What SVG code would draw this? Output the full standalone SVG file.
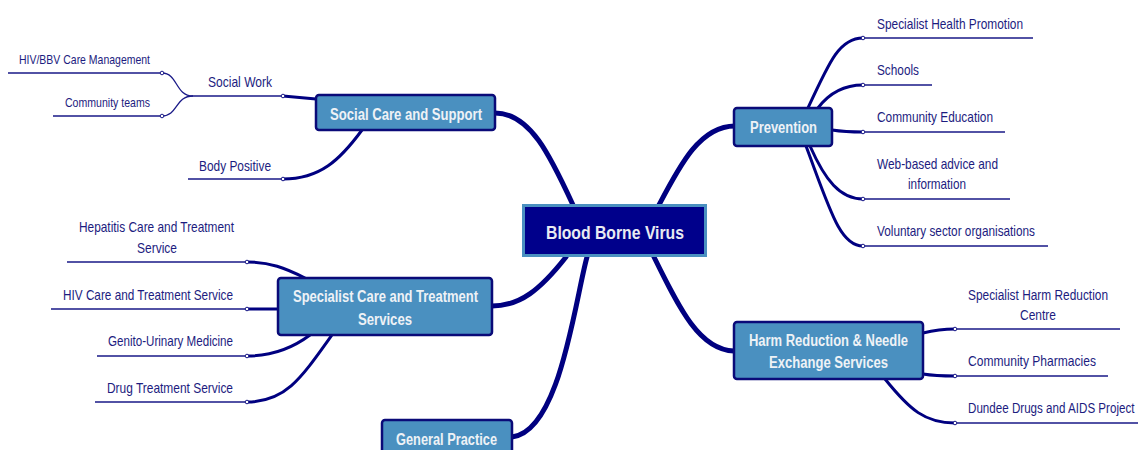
<svg xmlns="http://www.w3.org/2000/svg" width="1138" height="450" viewBox="0 0 1138 450">
<style>
.main{fill:none;stroke:#000080;stroke-width:5;stroke-linecap:round}
.sub{fill:none;stroke:#000080;stroke-width:3;stroke-linecap:round}
.thin{fill:none;stroke:#1a1a88;stroke-width:1.3}
.dot{fill:#ffffff;stroke:#1a1a88;stroke-width:1}
.leaf{font-family:"Liberation Sans",Arial,sans-serif;font-size:15px;fill:#1c1c80}
.small{font-size:13.5px}
.box{fill:#4a90c0;stroke:#0a0a78;stroke-width:2.5}
.ntext{font-family:"Liberation Sans",Arial,sans-serif;font-size:16px;font-weight:bold;fill:#eef2f6}
.central{fill:#00008b;stroke:#4a90c0;stroke-width:3}
.ctext{font-family:"Liberation Sans",Arial,sans-serif;font-size:19px;font-weight:bold;fill:#e8eaf2}
</style>
<g id="connectors">
<path class="main" d="M495 113 C530 113,550 155,573 205"/>
<path class="main" d="M659 205 C680 165,700 126,735 126"/>
<path class="main" d="M566 257 C540 290,520 306,492 306"/>
<path class="main" d="M587 257 C575 300,560 432,512 437"/>
<path class="main" d="M654 257 C680 310,700 350,734 351"/>
<path class="sub" d="M316 99 L283 96"/>
<path class="sub" d="M362 130 C340 160,320 179,283 179"/>
<path class="thin" d="M193 96 C175 96,178 73,162 73"/>
<path class="thin" d="M193 96 C175 96,178 116,162 116"/>
<path class="thin" d="M193 96 H283 M8 73 H162 M53 116 H162 M188 179 H283"/>
<path class="sub" d="M305 278 C285 268,270 262,247 262"/>
<path class="sub" d="M278 309 L247 309"/>
<path class="sub" d="M310 335 C290 350,270 356,247 356"/>
<path class="sub" d="M332 335 C300 380,285 402,247 402"/>
<path class="thin" d="M67 262 H247 M51 309 H247 M97 356 H247 M95 402 H247"/>
<path class="sub" d="M808 108 C830 60,840 38,863 38"/>
<path class="sub" d="M818 108 C830 92,845 85,863 85"/>
<path class="sub" d="M832 130 C845 132,850 132,863 132"/>
<path class="sub" d="M810 146 C825 180,840 199,863 199"/>
<path class="sub" d="M806 146 C830 210,840 246,863 246"/>
<path class="thin" d="M863 38 H1033 M863 85 H932 M863 132 H1005 M863 199 H1010 M863 246 H1048"/>
<path class="sub" d="M923 333 C935 330,945 329,955 329"/>
<path class="sub" d="M923 374 C935 376,945 376,955 376"/>
<path class="sub" d="M885 379 C910 410,925 423,955 423"/>
<path class="thin" d="M955 329 H1120 M955 376 H1108 M955 423 H1138"/>
<circle class="dot" cx="283" cy="96" r="1.8"/>
<circle class="dot" cx="162" cy="73" r="1.8"/>
<circle class="dot" cx="162" cy="116" r="1.8"/>
<circle class="dot" cx="283" cy="179" r="1.8"/>
<circle class="dot" cx="247" cy="262" r="1.8"/>
<circle class="dot" cx="247" cy="309" r="1.8"/>
<circle class="dot" cx="247" cy="356" r="1.8"/>
<circle class="dot" cx="247" cy="402" r="1.8"/>
<circle class="dot" cx="863" cy="38" r="1.8"/>
<circle class="dot" cx="863" cy="85" r="1.8"/>
<circle class="dot" cx="863" cy="132" r="1.8"/>
<circle class="dot" cx="863" cy="199" r="1.8"/>
<circle class="dot" cx="863" cy="246" r="1.8"/>
<circle class="dot" cx="955" cy="329" r="1.8"/>
<circle class="dot" cx="955" cy="376" r="1.8"/>
<circle class="dot" cx="955" cy="423" r="1.8"/>
</g>
<g id="central">
<rect class="central" x="523.5" y="205.5" width="182" height="50"/>
<text class="ctext" x="546" y="239" textLength="138" lengthAdjust="spacingAndGlyphs">Blood Borne Virus</text>
</g>
<g id="social-care">
<rect class="box" x="316" y="95" width="179" height="35" rx="3"/>
<text class="ntext" x="330" y="120" textLength="152" lengthAdjust="spacingAndGlyphs">Social Care and Support</text>
</g>
<g id="social-work"><text class="leaf" x="208" y="87" textLength="64" lengthAdjust="spacingAndGlyphs">Social Work</text></g>
<g id="hiv-bbv"><text class="leaf small" x="19" y="64" textLength="131" lengthAdjust="spacingAndGlyphs">HIV/BBV Care Management</text></g>
<g id="community-teams"><text class="leaf small" x="65" y="107" textLength="85" lengthAdjust="spacingAndGlyphs">Community teams</text></g>
<g id="body-positive"><text class="leaf" x="199" y="171" textLength="72" lengthAdjust="spacingAndGlyphs">Body Positive</text></g>
<g id="specialist-care">
<rect class="box" x="278" y="278" width="214" height="57" rx="3"/>
<text class="ntext" x="293" y="302" textLength="185" lengthAdjust="spacingAndGlyphs">Specialist Care and Treatment</text>
<text class="ntext" x="358" y="325" textLength="54" lengthAdjust="spacingAndGlyphs">Services</text>
</g>
<g id="hepatitis">
<text class="leaf" x="79" y="232" textLength="155" lengthAdjust="spacingAndGlyphs">Hepatitis Care and Treatment</text>
<text class="leaf" x="137" y="253" textLength="40" lengthAdjust="spacingAndGlyphs">Service</text>
</g>
<g id="hiv-care"><text class="leaf" x="63" y="300" textLength="170" lengthAdjust="spacingAndGlyphs">HIV Care and Treatment Service</text></g>
<g id="gum"><text class="leaf" x="108" y="346" textLength="125" lengthAdjust="spacingAndGlyphs">Genito-Urinary Medicine</text></g>
<g id="drug-treatment"><text class="leaf" x="107" y="393" textLength="126" lengthAdjust="spacingAndGlyphs">Drug Treatment Service</text></g>
<g id="general-practice">
<rect class="box" x="382" y="420" width="130" height="45" rx="3"/>
<text class="ntext" x="396" y="445" textLength="101" lengthAdjust="spacingAndGlyphs">General Practice</text>
</g>
<g id="prevention">
<rect class="box" x="734" y="108" width="98" height="38" rx="3"/>
<text class="ntext" x="750" y="133" textLength="67" lengthAdjust="spacingAndGlyphs">Prevention</text>
</g>
<g id="shp"><text class="leaf" x="877" y="29" textLength="146" lengthAdjust="spacingAndGlyphs">Specialist Health Promotion</text></g>
<g id="schools"><text class="leaf" x="877" y="75" textLength="42" lengthAdjust="spacingAndGlyphs">Schools</text></g>
<g id="community-education"><text class="leaf" x="877" y="122" textLength="116" lengthAdjust="spacingAndGlyphs">Community Education</text></g>
<g id="web-based">
<text class="leaf" x="877" y="169" textLength="121" lengthAdjust="spacingAndGlyphs">Web-based advice and</text>
<text class="leaf" x="908" y="189" textLength="58" lengthAdjust="spacingAndGlyphs">information</text>
</g>
<g id="voluntary"><text class="leaf" x="877" y="236" textLength="158" lengthAdjust="spacingAndGlyphs">Voluntary sector organisations</text></g>
<g id="harm-reduction">
<rect class="box" x="734" y="322" width="189" height="57" rx="3"/>
<text class="ntext" x="749" y="346" textLength="159" lengthAdjust="spacingAndGlyphs">Harm Reduction &amp; Needle</text>
<text class="ntext" x="769" y="368" textLength="119" lengthAdjust="spacingAndGlyphs">Exchange Services</text>
</g>
<g id="shrc">
<text class="leaf" transform="translate(968 300) scale(0.75 1)" x="0" y="0" textLength="186.7" lengthAdjust="spacingAndGlyphs">Specialist Harm Reduction</text>
<text class="leaf" x="1020" y="320" textLength="36" lengthAdjust="spacingAndGlyphs">Centre</text>
</g>
<g id="pharmacies"><text class="leaf" x="968" y="366" textLength="128" lengthAdjust="spacingAndGlyphs">Community Pharmacies</text></g>
<g id="dundee"><text class="leaf" transform="translate(968 413) scale(0.75 1)" x="0" y="0" textLength="222" lengthAdjust="spacingAndGlyphs">Dundee Drugs and AIDS Project</text></g>
</svg>
